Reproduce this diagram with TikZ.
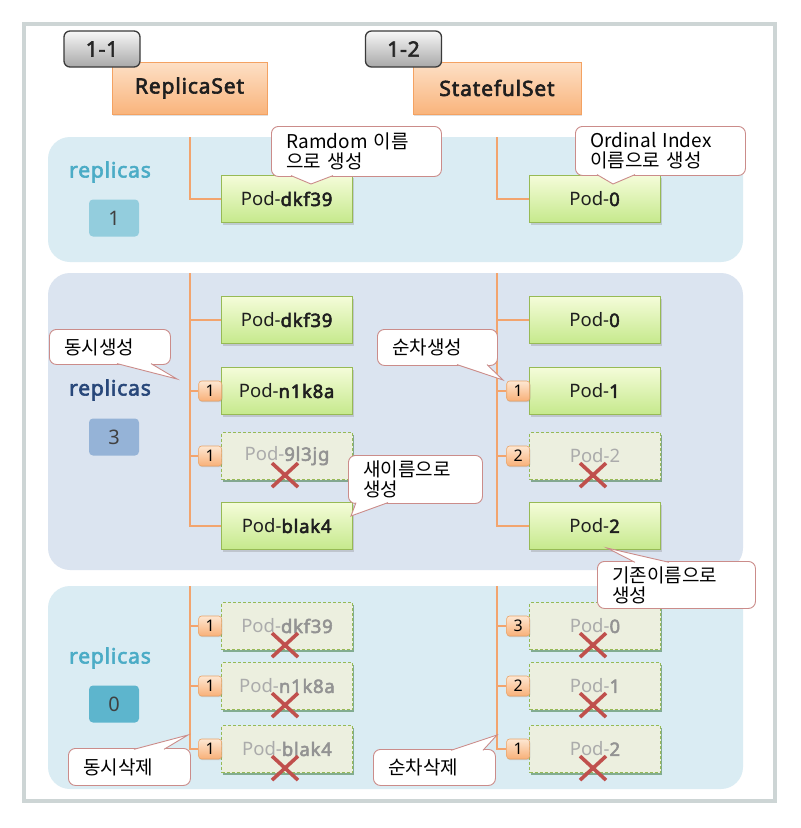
\documentclass[tikz,border=0pt]{standalone}
\usepackage{fontspec}
\setmainfont{Noto Sans}[BoldFont={Noto Sans},BoldFeatures={FakeBold=2.8,LetterSpace=4}]
\newfontfamily\kr{Noto Sans CJK KR}
\usetikzlibrary{shadows,calc}
\definecolor{framegray}{HTML}{CDD5D5}
\definecolor{panelblue}{HTML}{DAECF3}
\definecolor{panellav}{HTML}{DBE4F0}
\definecolor{tagtop}{HTML}{F7F7F7}
\definecolor{tagbot}{HTML}{A8A8A8}
\definecolor{tagborder}{HTML}{3A3A3A}
\definecolor{hdtop}{HTML}{FDE0C6}
\definecolor{hdbot}{HTML}{F9B47C}
\definecolor{hdborder}{HTML}{F4A262}
\definecolor{podtop}{HTML}{F4FCD9}
\definecolor{podbot}{HTML}{C6E98C}
\definecolor{podborder}{HTML}{97BA55}
\definecolor{gonefill}{HTML}{ECEFDF}
\definecolor{gonetext}{HTML}{ABABAB}
\definecolor{gonebold}{HTML}{939393}
\definecolor{bdtop}{HTML}{FDE7D2}
\definecolor{bdbot}{HTML}{F8B078}
\definecolor{bdborder}{HTML}{E9A46A}
\definecolor{connor}{HTML}{F2A46E}
\definecolor{xred}{HTML}{C0504D}
\definecolor{callb}{HTML}{CB8C8A}
\definecolor{teal}{HTML}{4BACC6}
\definecolor{navy}{HTML}{28477A}
\definecolor{cntA}{HTML}{93CDDD}
\definecolor{cntB}{HTML}{95B3D7}
\definecolor{cntC}{HTML}{5DB5CD}
\newcommand\xcross[1]{\draw[xmark] ($(#1.south)+(-15,-17)$) -- ($(#1.south)+(11,7)$) ($(#1.south)+(-15,7)$) -- ($(#1.south)+(11,-17)$);}
\newcommand\gb[1]{{\color{gonebold}\bfseries #1}}
\begin{document}
\begin{tikzpicture}[x=1pt,y=-1pt,
  frame/.style={draw=framegray, line width=4pt, fill=white},
  panelA/.style={fill=panelblue, rounded corners=22pt},
  panelB/.style={fill=panellav, rounded corners=22pt},
  tag/.style={draw=tagborder, line width=1.3pt, rounded corners=6pt, top color=tagtop, bottom color=tagbot, minimum width=76pt, minimum height=36pt, inner sep=0pt, font=\fontsize{21}{24}\selectfont\bfseries, text=black!85},
  header/.style={draw=hdborder, line width=.8pt, top color=hdtop, bottom color=hdbot, minimum height=52pt, inner sep=0pt, font=\fontsize{21}{24}\selectfont\bfseries, text=black!88, drop shadow={shadow xshift=1pt, shadow yshift=-2pt, opacity=.25}},
  pod/.style={draw=podborder, line width=1pt, top color=podtop, bottom color=podbot, minimum width=131pt, minimum height=47pt, inner sep=0pt, font=\fontsize{18.5}{20}\selectfont, text=black!88, drop shadow={shadow xshift=1.2pt, shadow yshift=-2pt, opacity=.3}},
  gone/.style={draw=podborder, line width=1.2pt, dash pattern=on 3pt off 2pt, fill=gonefill, minimum width=131pt, minimum height=47pt, inner sep=0pt, font=\fontsize{18.5}{20}\selectfont, text=gonetext, drop shadow={shadow xshift=1.2pt, shadow yshift=-2.4pt, opacity=.4, fill=black!70!green}},
  badge/.style={draw=bdborder, line width=.6pt, rounded corners=3pt, top color=bdtop, bottom color=bdbot, minimum width=23pt, minimum height=20pt, inner sep=0pt, font=\fontsize{16}{18}\selectfont, anchor=east, drop shadow={shadow xshift=.8pt, shadow yshift=-1.2pt, opacity=.25}},
  conn/.style={draw=connor, line width=2pt},
  xmark/.style={draw=xred, line width=3.6pt},
  callout/.style={draw=callb, fill=white, line width=.9pt, rounded corners=7pt, inner ysep=0pt, inner xsep=15pt, anchor=north west, align=left, font=\kr\fontsize{19}{20}\selectfont},
  cbox/.style n args={3}{minimum width=#1, text width=#2, minimum height=#3},
  ptr/.style={draw=callb, fill=white, line width=.9pt, line join=miter},
  replabel/.style={font=\fontsize{21}{24}\selectfont\bfseries},
  countbox/.style={rounded corners=4pt, minimum width=50pt, minimum height=37pt, inner sep=0pt, font=\fontsize{20}{22}\selectfont, text=black!75}
]
\useasboundingbox (0,0) rectangle (801,828);
\draw[frame] (24,24) rectangle (775,801);
\fill[panelA] (48,137) rectangle (743,262);
\fill[panelB] (48,273) rectangle (743,570);
\fill[panelA] (48,586) rectangle (743,789);

% headers
\node[header, minimum width=155pt] (rs) at (189.5,88) {ReplicaSet};
\node[header, minimum width=168pt] (ss) at (497,88) {StatefulSet};
\node[tag] (t11) at (102,49) {1-1};
\node[tag] (t12) at (403.5,49) {1-2};

% replicas labels
\node[replabel, text=teal] (r1) at (110,172) {replicas};
\node[countbox, fill=cntA] (n1) at (114,218) {1};
\node[replabel, text=navy] (r2) at (110,390) {replicas};
\node[countbox, fill=cntB] (n2) at (114,437) {3};
\node[replabel, text=teal] (r3) at (110,658) {replicas};
\node[countbox, fill=cntC] (n3) at (114,704) {0};

% panel 1 pods
\node[pod] (pA1) at (287,199) {Pod-\textbf{dkf39}};
\node[pod] (pB1) at (595,199) {Pod-\textbf{0}};

% panel 2 pods
\node[pod] (pA2a) at (287,320) {Pod-\textbf{dkf39}};
\node[pod] (pA2b) at (287,391) {Pod-\textbf{n1k8a}};
\node[gone] (pA2c) at (287,456) {Pod-\gb{9l3jg}};
\node[pod] (pA2d) at (287,526) {Pod-\textbf{blak4}};
\node[pod] (pB2a) at (595,320) {Pod-\textbf{0}};
\node[pod] (pB2b) at (595,391) {Pod-\textbf{1}};
\node[gone] (pB2c) at (595,456) {Pod-2};
\node[pod] (pB2d) at (595,526) {Pod-\textbf{2}};

% panel 3 pods
\node[gone] (pA3a) at (287,626) {Pod-\gb{dkf39}};
\node[gone] (pA3b) at (287,686) {Pod-\gb{n1k8a}};
\node[gone] (pA3c) at (287,749) {Pod-\gb{blak4}};
\node[gone] (pB3a) at (595,626) {Pod-\gb{0}};
\node[gone] (pB3b) at (595,686) {Pod-\gb{1}};
\node[gone] (pB3c) at (595,749) {Pod-\gb{2}};

% badges
\node[badge] (bA2b) at ($(pA2b.west)+(1,0)$) {1};
\node[badge] (bA2c) at ($(pA2c.west)+(1,0)$) {1};
\node[badge] (bB2b) at ($(pB2b.west)+(1,0)$) {1};
\node[badge] (bB2c) at ($(pB2c.west)+(1,0)$) {2};
\node[badge] (bA3a) at ($(pA3a.west)+(1,0)$) {1};
\node[badge] (bA3b) at ($(pA3b.west)+(1,0)$) {1};
\node[badge] (bA3c) at ($(pA3c.west)+(1,0)$) {1};
\node[badge] (bB3a) at ($(pB3a.west)+(1,0)$) {3};
\node[badge] (bB3b) at ($(pB3b.west)+(1,0)$) {2};
\node[badge] (bB3c) at ($(pB3c.west)+(1,0)$) {1};

% connectors
\coordinate (a1) at (190,137);
\coordinate (b1) at (497,137);
\coordinate (a2) at (190,273);
\coordinate (b2) at (497,273);
\coordinate (a3) at (190,586);
\coordinate (b3) at (497,586);
\draw[conn] (a1) |- (pA1.west);
\draw[conn] (b1) |- (pB1.west);
\draw[conn] (a2) |- (pA2d.west);
\draw[conn] (a2) |- (pA2a.west);
\draw[conn] (a2) |- (bA2b.west);
\draw[conn] (a2) |- (bA2c.west);
\draw[conn] (b2) |- (pB2d.west);
\draw[conn] (b2) |- (pB2a.west);
\draw[conn] (b2) |- (bB2b.west);
\draw[conn] (b2) |- (bB2c.west);
\draw[conn] (a3) |- (bA3c.west);
\draw[conn] (a3) |- (bA3a.west);
\draw[conn] (a3) |- (bA3b.west);
\draw[conn] (b3) |- (bB3c.west);
\draw[conn] (b3) |- (bB3a.west);
\draw[conn] (b3) |- (bB3b.west);

% crosses
\xcross{pA2c}
\xcross{pB2c}
\xcross{pA3a}
\xcross{pA3b}
\xcross{pA3c}
\xcross{pB3a}
\xcross{pB3b}
\xcross{pB3c}

% callouts
\node[callout, cbox={170pt}{140pt}{50pt}] (c1) at (271,126) {Ramdom 이름\\으로 생성};
\coordinate (t1) at (311,184);
\path[ptr] ($(c1.south west)+(20,-1.3)$) -- (t1) -- ($(c1.south west)+(62,-1.3)$);

\node[callout, cbox={170pt}{140pt}{49pt}] (c2) at (575,126) {Ordinal Index\\이름으로 생성};
\coordinate (t2) at (613,184);
\path[ptr] ($(c2.south west)+(22,-1.3)$) -- (t2) -- ($(c2.south west)+(60,-1.3)$);

\node[callout, cbox={121pt}{91pt}{35pt}] (c3) at (49,329) {동시생성};
\coordinate (t3) at (177,379);
\path[ptr] ($(c3.south west)+(68,-1.3)$) -- (t3) -- ($(c3.south west)+(102,-1.3)$);

\node[callout, cbox={120pt}{90pt}{36pt}] (c4) at (377,329) {순차생성};
\coordinate (t4) at (503,380);
\path[ptr] ($(c4.south west)+(80,-1.3)$) -- (t4) -- ($(c4.south west)+(110,-1.3)$);

\node[callout, cbox={134pt}{104pt}{48pt}] (c5) at (348,455) {새이름으로\\생성};
\coordinate (t5) at (351,516);
\path[ptr] ($(c5.south west)+(8,-1.3)$) -- (t5) -- ($(c5.south west)+(40,-1.3)$);

\node[callout, cbox={158pt}{128pt}{47pt}] (c6) at (597,561) {기존이름으로\\생성};
\coordinate (t6) at (607,548);
\path[ptr] ($(c6.north west)+(38,1.3)$) -- (t6) -- ($(c6.north west)+(72,1.3)$);

\node[callout, cbox={122pt}{92pt}{37pt}] (c7) at (68,748) {동시삭제};
\coordinate (t7) at (188,735);
\path[ptr] ($(c7.north west)+(66,1.3)$) -- (t7) -- ($(c7.north west)+(96,1.3)$);

\node[callout, cbox={122pt}{92pt}{36pt}] (c8) at (373,749) {순차삭제};
\coordinate (t8) at (497,735);
\path[ptr] ($(c8.north west)+(78,1.3)$) -- (t8) -- ($(c8.north west)+(110,1.3)$);
\end{tikzpicture}
\end{document}
